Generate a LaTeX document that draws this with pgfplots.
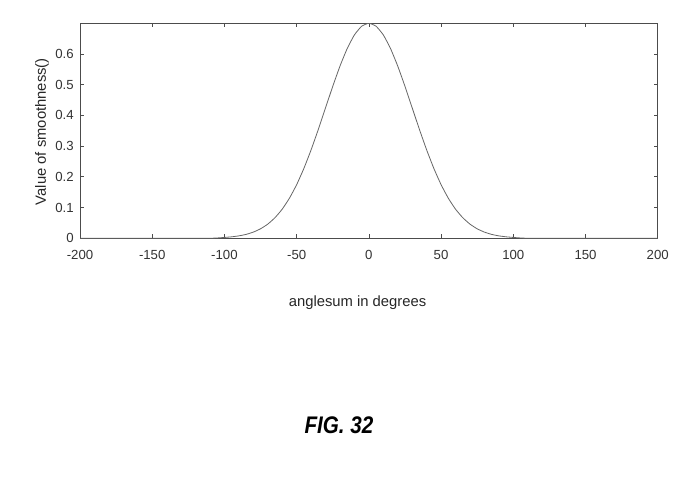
\documentclass[border=0pt]{standalone}
\usepackage{pgfplots}
\pgfplotsset{compat=1.18}
\usepackage{fontspec}
\setmainfont{Liberation Sans}
\begin{document}
\begin{tikzpicture}
\path[use as bounding box] (0,0) rectangle (525pt,363pt);
\begin{axis}[
  at={(60pt,184.3pt)}, anchor=south west,
  scale only axis, width=433.3pt, height=161.25pt,
  xmin=-200, xmax=200, ymin=0, ymax=0.7,
  xtick={-200,-150,...,200},
  ytick={0,0.1,0.2,0.3,0.4,0.5,0.6},
  yticklabels={0,0.1,0.2,0.3,0.4,0.5,0.6},
  tick align=inside, major tick length=3pt,
  axis line style={black!70, line width=0.6pt},
  every tick/.style={black!70, line width=0.5pt},
  /pgf/number format/assume math mode=true,
  tick label style={font=\fontsize{9.9}{11}\selectfont, text=black!80},
  xticklabel style={yshift=-5.5pt},
  yticklabel style={xshift=-1.2pt},
  every axis x label/.style={at={(axis description cs:0.5,0)}, anchor=center, xshift=-8.5pt, yshift=-48.3pt},
  every axis y label/.style={at={(axis description cs:-0.0658,0.496)}, rotate=90, anchor=center},
  label style={font=\fontsize{11.1}{13}\selectfont, text=black!85},
  xlabel={anglesum in degrees},
  ylabel={Value of smoothness()},
]
\addplot[black!60, line width=0.6pt, smooth, tension=0.3] coordinates {
(-200,0) (-150,0) (-110,0) (-100,0.0027) (-95,0.0047) (-90,0.0078) (-85,0.0126) (-80,0.0200)
(-75,0.0308) (-70,0.0460) (-65,0.0670) (-60,0.0947) (-55,0.1304) (-50,0.1745)
(-45,0.2273) (-40,0.2878) (-35,0.3544) (-30,0.4246) (-25,0.4947) (-20,0.5605)
(-15,0.6177) (-10,0.6622) (-5,0.6903) (0,0.7000) (5,0.6903) (10,0.6622)
(15,0.6177) (20,0.5605) (25,0.4947) (30,0.4246) (35,0.3544) (40,0.2878)
(45,0.2273) (50,0.1745) (55,0.1304) (60,0.0947) (65,0.0670) (70,0.0460)
(75,0.0308) (80,0.0200) (85,0.0126) (90,0.0078) (95,0.0047) (100,0.0027)
(110,0) (150,0) (200,0)
};
\end{axis}
\node[font=\bfseries\itshape\fontsize{18}{20}\selectfont, xscale=0.86] at (254.25pt,43.7pt) {FIG. 32};
\end{tikzpicture}
\end{document}
